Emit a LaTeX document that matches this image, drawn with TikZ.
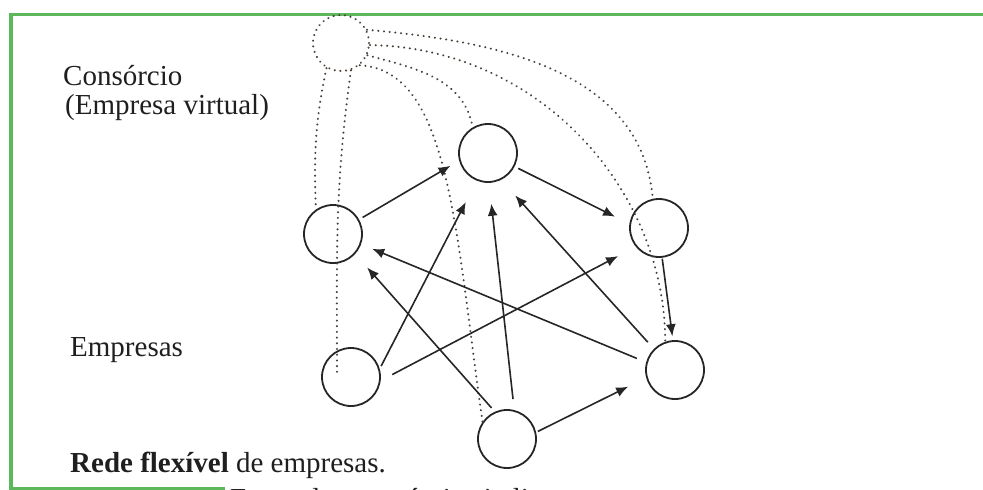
\documentclass[tikz,border=0pt]{standalone}
\usepackage{fontspec}
\setmainfont{Liberation Serif}
\usetikzlibrary{arrows.meta,calc}
\definecolor{cFrame}{HTML}{5CB85A}
\definecolor{cDot}  {HTML}{4A4038}
\tikzset{
  firm/.style ={circle,draw=black!85,line width=1.8pt,minimum size=58pt,inner sep=0pt},
  virt/.style ={circle,draw=cDot,line width=2.2pt,line cap=round,dash pattern=on 0.1pt off 5.6pt,
                minimum size=56pt,inner sep=0pt},
  link/.style ={draw=cDot,line width=2.2pt,line cap=round,dash pattern=on 0.1pt off 5.6pt},
  flow/.style ={-{Latex[length=12pt,width=10pt]},draw=black!85,line width=1.6pt},
  txt/.style  ={anchor=base west,inner sep=0pt,text=black!88,font=\fontsize{29}{32}\selectfont},
  frame/.style={draw=cFrame,line width=3.5pt},
}

\begin{document}
\begin{tikzpicture}[x=1pt, y=1pt]
\useasboundingbox (0,0) rectangle (983,-490);
\clip (0,0) rectangle (983,-490);

% ===== green frame =========================================================
\draw[frame] (11,-490) -- (11,-14.5) -- (983,-14.5);
\draw[frame] (9.5,-488.5) -- (225,-488.5);

% ===== labels ==============================================================
\node[txt] (lcons) at (63,-85)  {Consórcio};
\node[txt] (lvirt) at (65,-114) {(Empresa virtual)};
\node[txt] (lfirm) at (70,-356) {Empresas};
\node[txt] (cap)   at (70,-472) {\textbf{Rede flexível} de empresas.};
\node[txt] (cap2)  at (230,-508) {Exemplo: consórcios italianos};

% ===== consortium and firms ================================================
\node[virt] (virt) at (341,-43)  {};
\node[firm] (A) at (488,-153) {};
\node[firm] (B) at (333,-234) {};
\node[firm] (C) at (659,-228) {};
\node[firm] (D) at (351,-377) {};
\node[firm] (E) at (675,-370) {};
\node[firm] (F) at (507,-439) {};

% ===== dotted ties to the virtual firm =====================================
\draw[link] (virt.27)  to[out=-5,in=95] (C.102);
\draw[link] (virt.-4)  .. controls (540,-48) and (665,-190) .. (E.109);
\draw[link] (virt.-25) to[out=-15,in=100] (A.121);
\draw[link] (virt.-50) .. controls (450,-70) and (455,-230) .. (F.145);
\draw[link] (virt.240) to[out=258,in=92] (B.125);
\draw[link] (virt.290) to[out=262,in=90] ($(D.center)+(-14,0)$);

% ===== flows between firms =================================================
\foreach \s/\sa/\t/\ta/\gs/\gt in {B/29/A/195/4/10, A/333/C/172/4/16, C/276/E/94/1/4,
    D/16/A/248/3/24, D/353/C/219/13/20, F/76/A/272/11/21, F/114/B/318/5/18,
    E/135/A/296/9/21, E/165/B/340/10/12, F/13/E/195/2/20}{%
  \draw[flow,shorten <=\gs pt,shorten >=\gt pt] (\s.\sa) -- (\t.\ta);
}
\end{tikzpicture}
\end{document}
